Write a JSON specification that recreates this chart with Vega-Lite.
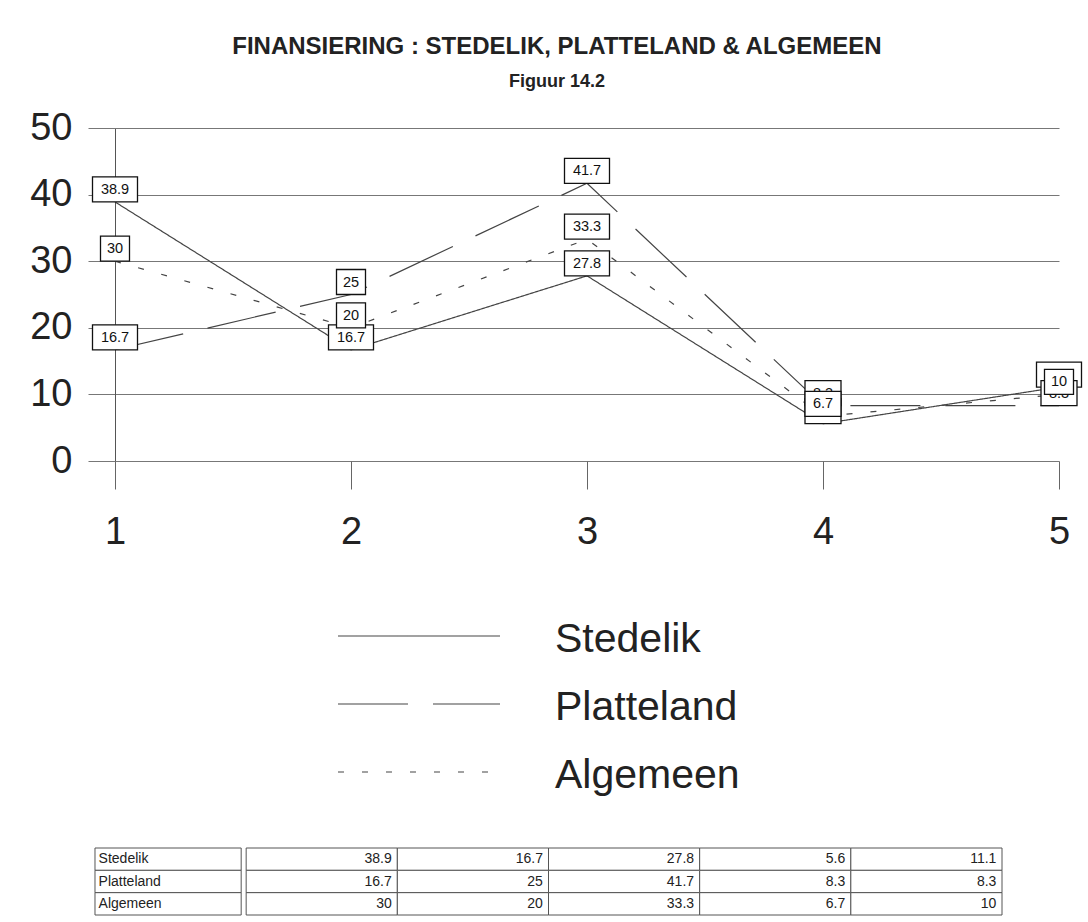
{
  "$schema": "https://vega.github.io/schema/vega-lite/v6.json",
  "padding": {"left": 29, "top": 35, "right": 4, "bottom": 4},
  "background": "white",
  "title": {
    "text": "FINANSIERING : STEDELIK, PLATTELAND & ALGEMEEN",
    "subtitle": "Figuur 14.2",
    "font": "Liberation Sans",
    "subtitleFont": "Liberation Sans",
    "fontSize": 24,
    "fontWeight": "bold",
    "subtitleFontSize": 18,
    "subtitleFontWeight": "bold",
    "color": "#222",
    "subtitleColor": "#222",
    "anchor": "middle",
    "offset": 18,
    "subtitlePadding": 14
  },
  "datasets": {
    "pts": [
      {"series": "Stedelik", "step": 1, "value": 38.9},
      {"series": "Stedelik", "step": 2, "value": 16.7},
      {"series": "Stedelik", "step": 3, "value": 27.8},
      {"series": "Stedelik", "step": 4, "value": 5.6},
      {"series": "Stedelik", "step": 5, "value": 11.1},
      {"series": "Platteland", "step": 1, "value": 16.7},
      {"series": "Platteland", "step": 2, "value": 25},
      {"series": "Platteland", "step": 3, "value": 41.7},
      {"series": "Platteland", "step": 4, "value": 8.3},
      {"series": "Platteland", "step": 5, "value": 8.3},
      {"series": "Algemeen", "step": 1, "value": 30},
      {"series": "Algemeen", "step": 2, "value": 20},
      {"series": "Algemeen", "step": 3, "value": 33.3},
      {"series": "Algemeen", "step": 4, "value": 6.7},
      {"series": "Algemeen", "step": 5, "value": 10}
    ],
    "leg": [
      {"series": "Stedelik"},
      {"series": "Platteland"},
      {"series": "Algemeen"}
    ]
  },
  "spacing": 68,
  "center": false,
  "vconcat": [
    {
      "width": 944,
      "height": 333,
      "data": {"name": "pts"},
      "encoding": {
        "x": {
          "field": "step", "type": "quantitative",
          "scale": {"domain": [1, 5], "nice": false, "zero": false},
          "axis": {
            "title": null, "values": [1, 2, 3, 4, 5], "format": "d",
            "grid": false, "domain": false, "tickSize": 28, "tickColor": "#666",
            "labelFontSize": 38, "labelColor": "#222", "labelPadding": 24,
            "labelFlush": false, "labelOverlap": false
          }
        },
        "y": {
          "field": "value", "type": "quantitative",
          "scale": {"domain": [0, 50], "nice": false},
          "axis": {
            "title": null, "values": [0, 10, 20, 30, 40, 50],
            "grid": true, "gridColor": "#777", "gridOpacity": 1,
            "tickSize": 27, "tickColor": "#777",
            "domain": true, "domainColor": "#555",
            "labelFontSize": 38, "labelColor": "#222", "labelPadding": 16
          }
        }
      },
      "layer": [
        {
          "mark": {"type": "line", "color": "#444", "strokeWidth": 1.2},
          "encoding": {
            "strokeDash": {
              "field": "series", "type": "nominal",
              "scale": {"domain": ["Stedelik", "Platteland", "Algemeen"], "range": [[1, 0], [70, 25], [6, 18]]},
              "legend": null
            }
          }
        },
        {
          "transform": [{"filter": "datum.series == 'Stedelik'"}],
          "mark": {"type": "point", "filled": true, "fill": "white", "stroke": "#111", "strokeWidth": 1.3, "opacity": 1, "size": 2500},
          "encoding": {
            "shape": {
              "condition": [
                {"test": "datum.value < 10", "value": "M-0.72,-1L0.72,-1L0.72,0L-0.72,0Z"},
                {"test": "datum.value == floor(datum.value)", "value": "M-0.58,-1L0.58,-1L0.58,0L-0.58,0Z"}
              ],
              "value": "M-0.9,-1L0.9,-1L0.9,0L-0.9,0Z"
            }
          }
        },
        {
          "transform": [{"filter": "datum.series == 'Stedelik'"}],
          "mark": {"type": "text", "fontSize": 14.5, "color": "#111", "baseline": "middle", "align": "center", "dy": -12},
          "encoding": {"text": {"field": "value", "type": "quantitative", "format": ".1~f"}}
        },
        {
          "transform": [{"filter": "datum.series == 'Platteland'"}],
          "mark": {"type": "point", "filled": true, "fill": "white", "stroke": "#111", "strokeWidth": 1.3, "opacity": 1, "size": 2500},
          "encoding": {
            "shape": {
              "condition": [
                {"test": "datum.value < 10", "value": "M-0.72,-1L0.72,-1L0.72,0L-0.72,0Z"},
                {"test": "datum.value == floor(datum.value)", "value": "M-0.58,-1L0.58,-1L0.58,0L-0.58,0Z"}
              ],
              "value": "M-0.9,-1L0.9,-1L0.9,0L-0.9,0Z"
            }
          }
        },
        {
          "transform": [{"filter": "datum.series == 'Platteland'"}],
          "mark": {"type": "text", "fontSize": 14.5, "color": "#111", "baseline": "middle", "align": "center", "dy": -12},
          "encoding": {"text": {"field": "value", "type": "quantitative", "format": ".1~f"}}
        },
        {
          "transform": [{"filter": "datum.series == 'Algemeen'"}],
          "mark": {"type": "point", "filled": true, "fill": "white", "stroke": "#111", "strokeWidth": 1.3, "opacity": 1, "size": 2500},
          "encoding": {
            "shape": {
              "condition": [
                {"test": "datum.value < 10", "value": "M-0.72,-1L0.72,-1L0.72,0L-0.72,0Z"},
                {"test": "datum.value == floor(datum.value)", "value": "M-0.58,-1L0.58,-1L0.58,0L-0.58,0Z"}
              ],
              "value": "M-0.9,-1L0.9,-1L0.9,0L-0.9,0Z"
            }
          }
        },
        {
          "transform": [{"filter": "datum.series == 'Algemeen'"}],
          "mark": {"type": "text", "fontSize": 14.5, "color": "#111", "baseline": "middle", "align": "center", "dy": -12},
          "encoding": {"text": {"field": "value", "type": "quantitative", "format": ".1~f"}}
        }
      ]
    },
    {
      "spacing": 51,
      "center": false,
      "vconcat": [
        {
          "width": 385,
          "height": 136,
          "data": {"name": "leg"},
          "encoding": {
            "y": {
              "field": "series", "type": "nominal",
              "scale": {"type": "point", "domain": ["Stedelik", "Platteland", "Algemeen"], "padding": 0},
              "axis": null
            }
          },
          "layer": [
            {
              "mark": {"type": "rule", "color": "#444", "strokeWidth": 1.2},
              "encoding": {
                "x": {"datum": 0, "type": "quantitative", "scale": {"domain": [-1.3765, 1], "nice": false, "zero": false}, "axis": null},
                "x2": {"datum": 1},
                "strokeDash": {
                  "field": "series", "type": "nominal",
                  "scale": {"domain": ["Stedelik", "Platteland", "Algemeen"], "range": [[1, 0], [70, 25], [6, 18]]},
                  "legend": null
                }
              }
            },
            {
              "mark": {"type": "text", "fontSize": 41, "color": "#222", "align": "left", "baseline": "middle", "dx": 55, "dy": 4},
              "encoding": {
                "x": {"datum": 1, "type": "quantitative"},
                "text": {"field": "series", "type": "nominal"}
              }
            }
          ]
        },
        {
          "width": 907,
          "height": 67,
          "encoding": {
            "y": {
              "field": "series", "type": "nominal",
              "scale": {"type": "band", "domain": ["Stedelik", "Platteland", "Algemeen"], "padding": 0},
              "axis": null
            }
          },
          "layer": [
            {
              "data": {"name": "pts"},
              "mark": {"type": "rect", "fill": "white", "stroke": "#555", "strokeWidth": 1, "xOffset": -20},
              "encoding": {
                "x": {"field": "step", "type": "ordinal", "scale": {"domain": [0, 1, 2, 3, 4, 5], "paddingInner": 0, "paddingOuter": 0}, "axis": null}
              }
            },
            {
              "data": {"name": "leg"},
              "mark": {"type": "rect", "fill": "white", "stroke": "#555", "strokeWidth": 1, "width": {"band": 0.967}, "xOffset": -22.5},
              "encoding": {
                "x": {"datum": 0, "type": "ordinal"}
              }
            },
            {
              "data": {"name": "pts"},
              "mark": {"type": "text", "fontSize": 14, "color": "#222", "align": "right", "baseline": "middle", "dx": 50},
              "encoding": {
                "x": {"field": "step", "type": "ordinal"},
                "text": {"field": "value", "type": "quantitative", "format": ".1~f"}
              }
            },
            {
              "data": {"name": "leg"},
              "mark": {"type": "text", "fontSize": 14, "color": "#222", "align": "left", "baseline": "middle", "dx": -92},
              "encoding": {
                "x": {"datum": 0, "type": "ordinal"},
                "text": {"field": "series", "type": "nominal"}
              }
            }
          ]
        }
      ]
    }
  ],
  "config": {
    "font": "Liberation Sans",
    "view": {"stroke": null}
  }
}
